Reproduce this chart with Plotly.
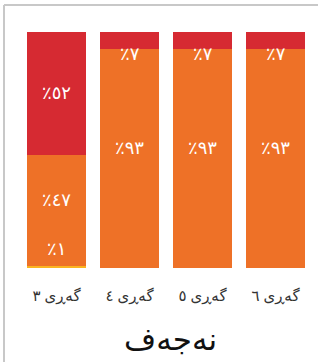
import plotly.graph_objects as go

categories = ["گەڕی ٣", "گەڕی ٤", "گەڕی ٥", "گەڕی ٦"]
yellow_vals = [1, 0, 0, 0]
orange_vals = [47, 93, 93, 93]
red_vals = [52, 7, 7, 7]
title_text = "نەجەف"

colors = {"yellow": "#fbb420", "orange": "#ee7127", "red": "#d62a32"}
# pixel nudges of the value labels (style only)
label_shift = {"yellow": 19, "orange": 11, "red": 1}
red_small_shift = -13

FONT = "Noto Sans, DejaVu Sans, sans-serif"
AR_DIGITS = str.maketrans("0123456789", "٠١٢٣٤٥٦٧٨٩")


def fmt(v):
    return "٪" + str(v).translate(AR_DIGITS)


fig = go.Figure()
series = [("yellow", yellow_vals), ("orange", orange_vals), ("red", red_vals)]
for name, vals in series:
    fig.add_trace(go.Bar(x=categories, y=vals, marker_color=colors[name],
                         marker_line_width=0, hoverinfo="skip", showlegend=False))

annotations = []
base = [0] * len(categories)
for name, vals in series:
    for i, v in enumerate(vals):
        if v > 0:
            shift = label_shift[name]
            if name == "red" and v < 20:
                shift = red_small_shift
            annotations.append(dict(x=categories[i], y=base[i] + v / 2, xref="x", yref="y",
                                    text=fmt(v), showarrow=False, yshift=shift,
                                    font=dict(family=FONT, size=18, color="white"),
                                    xanchor="center", yanchor="middle"))
        base[i] += v

annotations.append(dict(x=0.517, y=-0.297, xref="paper", yref="paper", text=title_text,
                        showarrow=False, xanchor="center", yanchor="middle",
                        font=dict(family=FONT, size=31, color="#111")))

fig.update_layout(
    barmode="stack",
    bargap=0.19,
    width=318, height=362,
    margin=dict(l=20, r=6, t=32, b=94),
    paper_bgcolor="white", plot_bgcolor="white",
    xaxis=dict(showgrid=False, showline=False, zeroline=False, ticks="",
               tickfont=dict(family=FONT, size=15, color="#333"), ticklabelstandoff=17,
               fixedrange=True),
    yaxis=dict(range=[0, 100], visible=False, fixedrange=True),
    annotations=annotations,
    shapes=[
        dict(type="line", xref="paper", yref="paper", x0=-0.0548, x1=1.03, y0=1.1144, y1=1.1144,
             line=dict(color="#c8c8c8", width=2)),
        dict(type="line", xref="paper", yref="paper", x0=-0.0548, x1=-0.0548, y0=1.1144, y1=-0.42,
             line=dict(color="#c8c8c8", width=2)),
    ],
)

fig.write_html("out.html", config={"displayModeBar": False},
               post_script="document.body.style.margin='0';document.body.style.padding='0';")
